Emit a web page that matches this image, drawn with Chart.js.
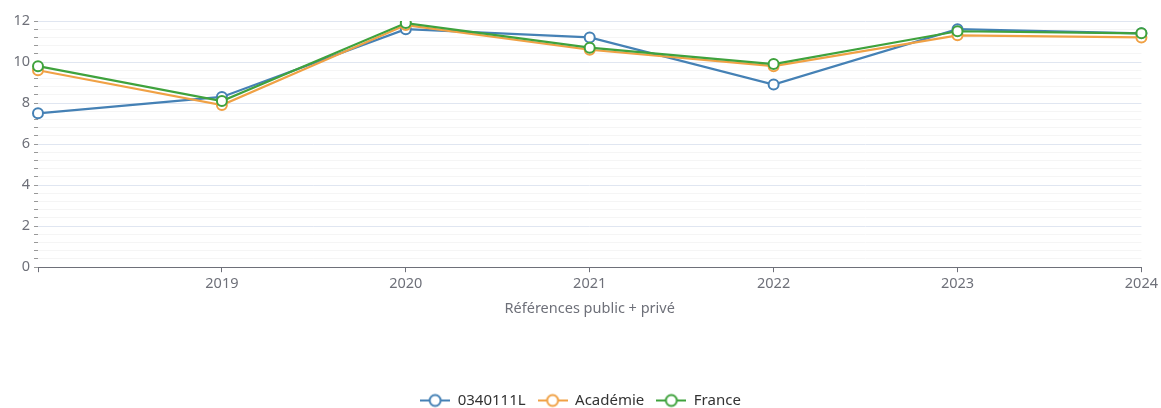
<!DOCTYPE html>
<html>
<head>
<meta charset="utf-8">
<script src="https://cdn.jsdelivr.net/npm/chart.js@4/dist/chart.umd.min.js"></script>
<style>
  html, body { margin: 0; padding: 0; background: #fff; }
  #wrap { width: 1161px; height: 408px; }
</style>
</head>
<body>
<div id="wrap"><canvas id="chart"></canvas></div>
<script>
// Données
const years = ['2018', '2019', '2020', '2021', '2022', '2023', '2024'];
const etab = [7.5, 8.3, 11.6, 11.2, 8.9, 11.6, 11.4];
const academie = [9.6, 7.9, 11.8, 10.6, 9.8, 11.3, 11.2];
const france = [9.8, 8.1, 11.9, 10.7, 9.9, 11.5, 11.4];
const seriesNames = ['0340111L', 'Académie', 'France'];
const yTicks = [0, 2, 4, 6, 8, 10, 12];

const colors = {
    blue: '#4581b5',
    orange: '#f0a145',
    green: '#3fa23d'
};
const axisGray = '#6e7079';
const font = { family: '"Noto Sans", sans-serif', size: 14.5 };
const legendFont = { family: '"Noto Sans", sans-serif', size: 15 };

// icône de légende : trait + cercle creux
function legendIcon(color) {
    const c = document.createElement('canvas');
    c.width = 30; c.height = 16;
    const ctx = c.getContext('2d');
    ctx.strokeStyle = color;
    ctx.lineWidth = 2;
    ctx.beginPath();
    ctx.moveTo(0, 8); ctx.lineTo(30, 8);
    ctx.stroke();
    ctx.beginPath();
    ctx.arc(15, 8, 5.5, 0, Math.PI * 2);
    ctx.fillStyle = '#fff';
    ctx.fill();
    ctx.stroke();
    return c;
}

function makeSet(label, data, color, order) {
    return {
        label: label,
        data: data,
        borderColor: color,
        backgroundColor: '#fff',
        borderWidth: 2.2,
        pointRadius: 5,
        pointBorderWidth: 2,
        pointBackgroundColor: '#fff',
        pointBorderColor: color,
        tension: 0,
        order: order,
        icon: legendIcon(color)
    };
}

function isMajor(v) {
    return yTicks.some(t => Math.abs(t - v) < 1e-6);
}

new Chart(document.getElementById('chart'), {
    type: 'line',
    data: {
        labels: years,
        datasets: [
            makeSet(seriesNames[0], etab, colors.blue, 3),
            makeSet(seriesNames[1], academie, colors.orange, 2),
            makeSet(seriesNames[2], france, colors.green, 1)
        ]
    },
    options: {
        responsive: true,
        maintainAspectRatio: false,
        animation: false,
        layout: { padding: { top: 21, right: 0, left: 0, bottom: -10 } },
        plugins: {
            tooltip: { enabled: false },
            legend: {
                position: 'bottom',
                labels: {
                    font: legendFont,
                    color: '#333',
                    usePointStyle: true,
                    pointStyleWidth: 30,
                    padding: 12,
                    generateLabels: function (chart) {
                        return chart.data.datasets.map(function (ds, i) {
                            return {
                                text: ds.label,
                                pointStyle: ds.icon,
                                fontColor: '#333',
                                lineWidth: 0,
                                hidden: false,
                                datasetIndex: i
                            };
                        });
                    }
                }
            }
        },
        scales: {
            x: {
                offset: false,
                grid: {
                    drawOnChartArea: false,
                    drawTicks: true,
                    tickLength: 5,
                    tickColor: axisGray
                },
                border: { color: axisGray, width: 1 },
                ticks: {
                    font: font,
                    color: axisGray,
                    padding: 3,
                    maxRotation: 0,
                    autoSkip: false,
                    callback: function (value, index) {
                        return index === 0 ? '' : years[index];
                    }
                },
                title: {
                    display: true,
                    text: 'Références public + privé',
                    font: font,
                    color: axisGray,
                    padding: { top: 5, bottom: 63 }
                }
            },
            y: {
                min: 0,
                max: 12,
                afterFit: function (scale) { scale.width = 38; },
                border: { display: false },
                grid: {
                    color: function (ctx) {
                        return isMajor(ctx.tick.value) ? '#e0e6f1' : '#f5f5f5';
                    },
                    tickColor: '#999',
                    tickLength: 4,
                    drawTicks: true
                },
                ticks: {
                    stepSize: 0.4,
                    autoSkip: false,
                    font: font,
                    color: axisGray,
                    padding: 4,
                    callback: function (value) {
                        return isMajor(value) ? Math.round(value) : '';
                    }
                }
            }
        }
    }
});
</script>
</body>
</html>
